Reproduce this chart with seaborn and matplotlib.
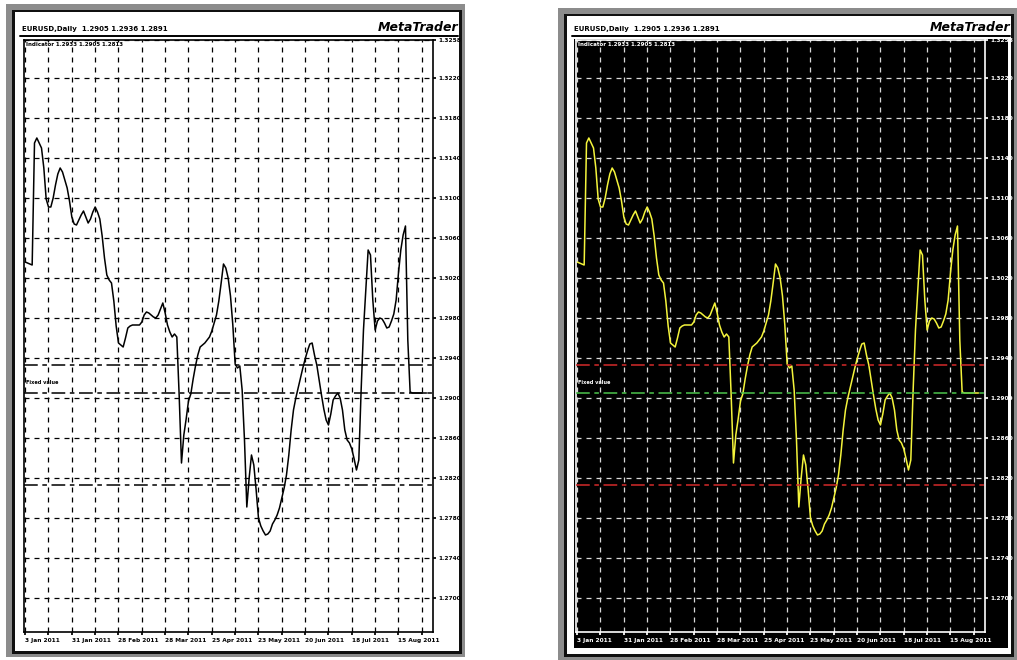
import matplotlib
matplotlib.use("Agg")
import matplotlib.pyplot as plt
import seaborn as sns
import pandas as pd
from matplotlib.patches import Rectangle
from matplotlib.lines import Line2D

# ---------------- data ----------------
dates = ["3 Jan 2011", "31 Jan 2011", "28 Feb 2011", "28 Mar 2011", "25 Apr 2011",
         "23 May 2011", "20 Jun 2011", "18 Jul 2011", "15 Aug 2011"]
values = [
    1.3036, 1.3035, 1.3034, 1.3033, 1.3155, 1.3160, 1.3155, 1.3150, 1.3130, 1.3099,
    1.3091, 1.3091, 1.3100, 1.3113, 1.3124, 1.3130, 1.3126, 1.3118, 1.3110, 1.3097,
    1.3081, 1.3074, 1.3073, 1.3078, 1.3083, 1.3087, 1.3081, 1.3075, 1.3079, 1.3086,
    1.3091, 1.3086, 1.3079, 1.3062, 1.3040, 1.3023, 1.3018, 1.3015, 1.2997, 1.2972,
    1.2955, 1.2953, 1.2951, 1.2960, 1.2970, 1.2972, 1.2973, 1.2973, 1.2973, 1.2973,
    1.2976, 1.2983, 1.2986, 1.2985, 1.2983, 1.2981, 1.2980, 1.2983, 1.2989, 1.2995,
    1.2985, 1.2973, 1.2966, 1.2961, 1.2964, 1.2961, 1.2903, 1.2835, 1.2863, 1.2879,
    1.2897, 1.2904, 1.2919, 1.2932, 1.2943, 1.2951, 1.2953, 1.2955, 1.2958, 1.2961,
    1.2967, 1.2975, 1.2983, 1.2997, 1.3015, 1.3034, 1.3030, 1.3020, 1.3002, 1.2973,
    1.2934, 1.2930, 1.2932, 1.2908, 1.2858, 1.2791, 1.2820, 1.2843, 1.2833, 1.2808,
    1.2780, 1.2772, 1.2767, 1.2763, 1.2764, 1.2767, 1.2774, 1.2778, 1.2783, 1.2790,
    1.2800, 1.2810, 1.2823, 1.2843, 1.2868, 1.2888, 1.2900, 1.2910, 1.2920, 1.2930,
    1.2939, 1.2947, 1.2954, 1.2955, 1.2943, 1.2933, 1.2918, 1.2903, 1.2889, 1.2878,
    1.2873, 1.2884, 1.2898, 1.2902, 1.2905, 1.2900, 1.2888, 1.2868, 1.2858, 1.2855,
    1.2849, 1.2839, 1.2828, 1.2838, 1.2908, 1.2968, 1.3008, 1.3048, 1.3043, 1.2998,
    1.2968, 1.2977, 1.2980, 1.2979, 1.2975, 1.2970, 1.2971, 1.2977, 1.2984, 1.2998,
    1.3025, 1.3048, 1.3063, 1.3072, 1.2958, 1.2906, 1.2905, 1.2905, 1.2905, 1.2905,
    1.2905, 1.2905, 1.2905,
]
upper_level = 1.2933
fixed_level = 1.2905
lower_level = 1.2813
y_ticks = [1.2700, 1.2740, 1.2780, 1.2820, 1.2860, 1.2900, 1.2940, 1.2980,
           1.3020, 1.3060, 1.3100, 1.3140, 1.3180, 1.3220]
y_top = 1.3258
y_bottom = 1.2666
header_text = "EURUSD,Daily  1.2905 1.2936 1.2891"
indicator_text = "Indicator 1.2933 1.2905 1.2813"
fixed_label = "Fixed value"

df = pd.DataFrame({"bar": range(len(values)), "value": values})

# ---------------- figure ----------------
W, H = 1017, 660
sns.set_theme(style="white")
plt.rcParams['font.family'] = ['DejaVu Sans']

fig = plt.figure(figsize=(W / 100, H / 100), dpi=100)
fig.patch.set_facecolor('white')


def fr(x0, y0, x1, y1):
    return [x0 / W, 1 - y1 / H, (x1 - x0) / W, (y1 - y0) / H]


def rect(x0, y0, x1, y1, **kw):
    fig.add_artist(Rectangle((x0 / W, 1 - y1 / H), (x1 - x0) / W, (y1 - y0) / H,
                             transform=fig.transFigure, zorder=-5, **kw))


def hline(x0, x1, y, **kw):
    fig.add_artist(Line2D([x0 / W, x1 / W], [1 - y / H, 1 - y / H],
                          transform=fig.transFigure, zorder=-1, **kw))


def panel(dx, top, bottom, dark):
    fg = 'white' if dark else 'black'
    bg = 'black' if dark else 'white'
    grid_c = '#d8d8d8' if dark else 'black'
    line_c = '#f4f43c' if dark else 'black'
    up_c = '#d42a2a' if dark else 'black'
    fix_c = '#4cc44c' if dark else 'black'
    # frame
    rect(dx + 6, top, dx + 465, bottom, facecolor='#8c8c8c', edgecolor='none')
    rect(dx + 12, top + 6, dx + 462, bottom - 3, facecolor='#101010', edgecolor='none')
    rect(dx + 15, top + 8, dx + 459, bottom - 6, facecolor='white', edgecolor='none')
    if dark:
        rect(dx + 22, 39, dx + 456, 648, facecolor='black', edgecolor='none')
    # header
    fig.text((dx + 22) / W, 1 - 31 / H, header_text, fontsize=5, fontweight='bold',
             color='black', va='baseline', ha='left')
    fig.text((dx + 458) / W, 1 - 31 / H, "MetaTrader", fontsize=9, fontweight='bold',
             fontstyle='italic', color='black', va='baseline', ha='right')
    hline(dx + 20, dx + 458, 35.5, color='black', lw=1.4)

    ax = fig.add_axes(fr(dx + 24, 40, dx + 433, 632))
    ax.set_facecolor(bg)
    sns.lineplot(data=df, x="bar", y="value", ax=ax, color=line_c, lw=1.1)
    for lv, c in ((upper_level, up_c), (fixed_level, fix_c), (lower_level, up_c)):
        ax.axhline(lv, color=c, lw=1.1, dashes=(9, 3, 3, 3), zorder=3)
    ax.set_xlim(-0.5, 174.8)
    ax.set_ylim(y_bottom, y_top)
    ax.set_yticks(y_ticks + [y_top])
    ax.set_yticklabels([f"{v:.4f}" for v in y_ticks] + [f"{y_top:.4f}"])
    xt = list(range(0, 171, 10))
    ax.set_xticks(xt)
    ax.set_xticklabels([dates[k // 20] if k % 20 == 0 else "" for k in xt], ha='left')
    ax.yaxis.tick_right()
    ax.tick_params(axis='y', labelsize=4.2, pad=2, length=2, colors=fg, right=True, left=False)
    ax.tick_params(axis='x', labelsize=4.2, pad=2, length=2, colors=fg, bottom=True)
    for lab in ax.get_xticklabels() + ax.get_yticklabels():
        lab.set_fontweight('bold')
    ax.grid(True, color=grid_c, linestyle=(0, (4, 4)), linewidth=0.9)
    ax.set_axisbelow(True)
    for s in ax.spines.values():
        s.set_color(fg)
        s.set_linewidth(1.2)
    ax.set_xlabel("")
    ax.set_ylabel("")
    ax.text(0.004, 0.996, indicator_text, transform=ax.transAxes, fontsize=4,
            fontweight='bold', color=fg, va='top', ha='left')
    ax.text(0.004, fixed_level + 0.0008, fixed_label, transform=ax.get_yaxis_transform(),
            fontsize=3.6, fontweight='bold', color=fg, va='bottom', ha='left')


panel(0, 4, 657, False)
panel(552, 8, 660, True)

fig.savefig("out.png", dpi=100)
